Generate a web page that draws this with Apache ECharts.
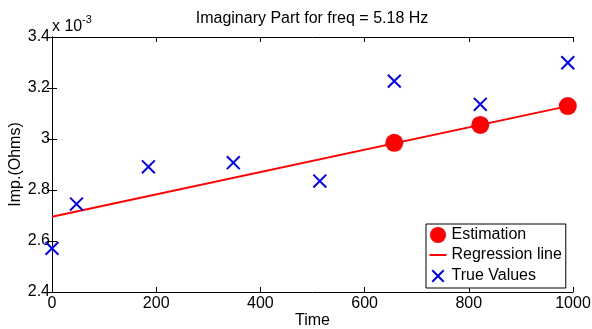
<!DOCTYPE html>
<html>
<head>
<meta charset="utf-8">
<script src="https://cdn.jsdelivr.net/npm/echarts@6/dist/echarts.min.js"></script>
<style>
  html, body { margin: 0; padding: 0; background: #fff; }
  #chart { width: 592px; height: 329px; }
</style>
</head>
<body>
<div id="chart"></div>
<script>
// values in units of 1e-3 Ohms (axis shows "x 10^-3")
const trueTime = [0, 47, 185, 348, 514, 657, 822, 990];
const trueImp = [2.571, 2.745, 2.891, 2.907, 2.835, 3.227, 3.136, 3.299];
const estTime = [657, 822, 990];
const estImp = [2.985, 3.055, 3.129];
const regTime = [0, 990];
const regImp = [2.695, 3.129];

const FONT = "'Liberation Sans', Arial, sans-serif";
const crossPath = 'path://M-2,-2M0,0L10,10M10,0L0,10M12,12';
const dashIcon = 'path://M0,0M0,7L17,7L17,9L0,9ZM17,16';

const pairs = (xs, ys) => xs.map((x, i) => [x, ys[i]]);

const frameAxis = (extra) => Object.assign({
  type: 'value',
  axisLine: { show: true, lineStyle: { color: '#000', width: 1 } },
  axisTick: { show: true, inside: true, length: 5, lineStyle: { color: '#000' } },
  splitLine: { show: false },
  axisLabel: { show: false },
}, extra);

const chart = echarts.init(document.getElementById('chart'), null, { renderer: 'canvas' });
chart.setOption({
  animation: false,
  backgroundColor: '#fff',
  textStyle: { fontFamily: FONT },
  title: {
    text: 'Imaginary Part for freq = 5.18 Hz',
    left: 312,
    top: 11,
    padding: 0,
    textAlign: 'center',
    textStyle: { fontFamily: FONT, fontSize: 16, fontWeight: 'normal', color: '#000' },
  },
  grid: { left: 52, right: 19, top: 37, bottom: 37, containLabel: false, outerBoundsMode: 'none' },
  xAxis: [
    frameAxis({
      position: 'bottom', min: 0, max: 1000, interval: 200,
      name: 'Time', nameLocation: 'middle', nameGap: 21, nameMoveOverlap: false,
      nameTextStyle: { fontFamily: FONT, fontSize: 16, color: '#000' },
      axisLabel: { show: true, margin: 4, fontFamily: FONT, fontSize: 16, color: '#000', formatter: (v) => String(v) },
    }),
    frameAxis({ position: 'top', min: 0, max: 1000, interval: 200 }),
  ],
  yAxis: [
    frameAxis({
      position: 'left', min: 2.4, max: 3.4, interval: 0.2,
      name: 'Imp.(Ohms)', nameLocation: 'middle', nameGap: 28, nameRotate: 90, nameMoveOverlap: false,
      nameTextStyle: { fontFamily: FONT, fontSize: 16, color: '#000' },
      axisLabel: { show: true, margin: 2, fontFamily: FONT, fontSize: 16, color: '#000' },
    }),
    frameAxis({ position: 'right', min: 2.4, max: 3.4, interval: 0.2 }),
  ],
  graphic: [
    { type: 'text', left: 52, top: 19, style: { text: 'x 10', font: '16px ' + FONT, fill: '#000' } },
    { type: 'text', left: 82, top: 14, style: { text: '-3', font: '11px ' + FONT, fill: '#000' } },
  ],
  legend: {
    orient: 'vertical',
    left: 426,
    top: 224,
    padding: [3, 4, 3, 3],
    itemGap: 4,
    itemWidth: 17,
    itemHeight: 16,
    backgroundColor: '#fff',
    borderColor: '#000',
    borderWidth: 1,
    borderRadius: 0,
    textStyle: { fontFamily: FONT, fontSize: 16, color: '#000' },
    data: [
      { name: 'Estimation', icon: 'circle' },
      { name: 'Regression line', icon: dashIcon },
      { name: 'True Values', icon: crossPath },
    ],
  },
  series: [
    {
      name: 'Regression line',
      type: 'line',
      data: pairs(regTime, regImp),
      symbol: 'none',
      lineStyle: { color: '#ff0000', width: 2 },
      itemStyle: { color: '#ff0000' },
      z: 2,
    },
    {
      name: 'Estimation',
      type: 'scatter',
      data: pairs(estTime, estImp),
      symbol: 'circle',
      symbolSize: 18,
      clip: false,
      itemStyle: { color: '#ff0000', opacity: 1 },
      z: 3,
    },
    {
      name: 'True Values',
      type: 'scatter',
      data: pairs(trueTime, trueImp),
      symbol: crossPath,
      symbolSize: 18,
      clip: false,
      itemStyle: { color: 'transparent', borderColor: '#0000ff', borderWidth: 2, opacity: 1 },
      z: 4,
    },
  ],
});
</script>
</body>
</html>
